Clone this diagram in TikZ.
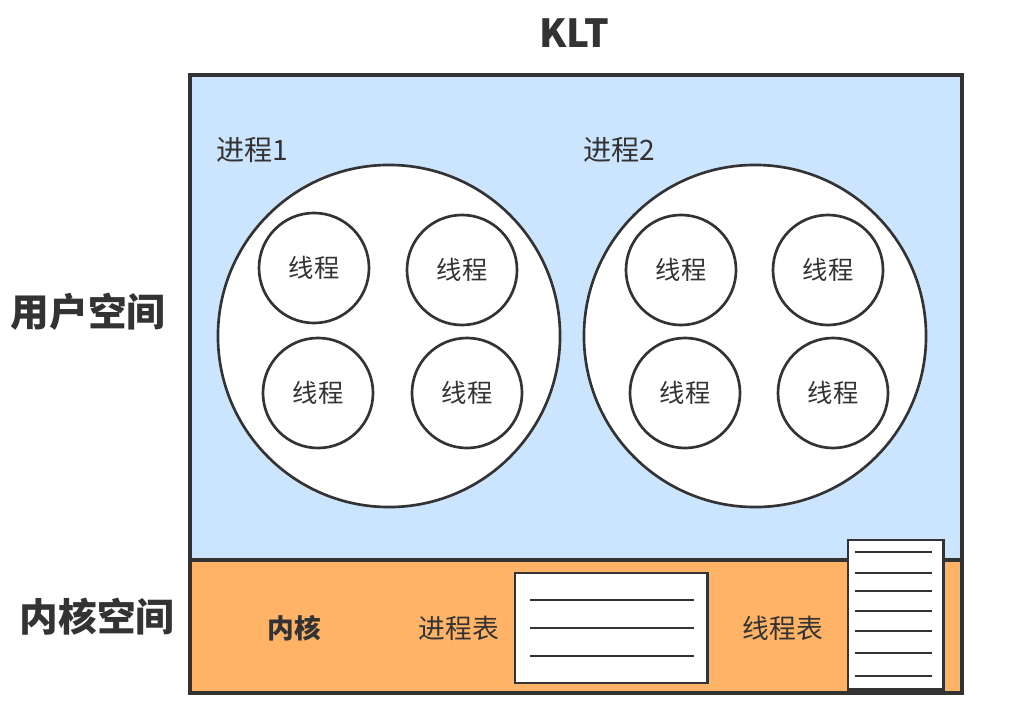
\documentclass[tikz,border=0pt]{standalone}
\usepackage{fontspec}
\setmainfont{Noto Sans CJK SC}
\usetikzlibrary{positioning}
\definecolor{userblue}{HTML}{CCE5FF}
\definecolor{kernelorange}{HTML}{FFB366}
\definecolor{inkgray}{HTML}{333333}

\begin{document}
\begin{tikzpicture}[
  x=0.025cm, y=-0.025cm,
  frame/.style={draw=inkgray, line width=2.4pt},
  proc/.style={circle, draw=inkgray, line width=1.9pt, fill=white, minimum size=8.55cm},
  thread/.style={circle, draw=inkgray, line width=1.9pt, fill=white, minimum size=2.75cm, text=inkgray, font=\fontsize{18}{18}\selectfont},
  txt/.style={text=inkgray, font=\fontsize{20}{20}\selectfont},
  side/.style={text=inkgray, font=\bfseries\fontsize{27.5}{27.5}\selectfont},
  tbl/.style={draw=inkgray, line width=2.1pt, fill=white},
  rowline/.style={draw=inkgray, line width=1.9pt}
]
\useasboundingbox (0,0) rectangle (1016,714);

% spaces
\fill[userblue] (190,75) rectangle (962,560);
\fill[kernelorange] (190,560) rectangle (962,693);
\draw[frame] (190,560) -- (962,560);
\draw[frame] (190,75) rectangle (962,693);

\node[side] (title) at (574,33) {KLT};
\node[side] (user) at (88,312) {用户空间};
\node[side] (kernel) at (97,617) {内核空间};

% processes
\node[txt] (p1label) at (252,150) {进程1};
\node[txt] (p2label) at (619,150) {进程2};
\node[proc] (p1) at (389,336) {};
\node[proc] (p2) at (755,336) {};

\node[thread] (t11) at (314,268) {线程};
\node[thread] (t12) at (462,270) {线程};
\node[thread] (t13) at (318,393) {线程};
\node[thread] (t14) at (467,393) {线程};
\node[thread] (t21) at (681,270) {线程};
\node[thread] (t22) at (828,270) {线程};
\node[thread] (t23) at (685,393) {线程};
\node[thread] (t24) at (833,393) {线程};

% kernel
\node[txt, font=\bfseries\fontsize{19}{19}\selectfont] (core) at (294,628) {内核};
\node[txt, font=\fontsize{19}{19}\selectfont] (ptlabel) at (459,628) {进程表};
\node[txt, font=\fontsize{19}{19}\selectfont] (ttlabel) at (783,628) {线程表};

\node[tbl, minimum width=4.8cm, minimum height=2.75cm] (proctab) at (611,628) {};
\foreach \y in {600,628,656}
  \draw[rowline] (530,\y) -- (694,\y);

\node[tbl, minimum width=2.375cm, minimum height=3.725cm] (threadtab) at (895.5,614.5) {};
\draw[inkgray, line width=3pt] (threadtab.south west) -- (threadtab.south east);
\foreach \y in {552,573,591,611,631,653,676}
  \draw[rowline] (855,\y) -- (932,\y);
\end{tikzpicture}
\end{document}
